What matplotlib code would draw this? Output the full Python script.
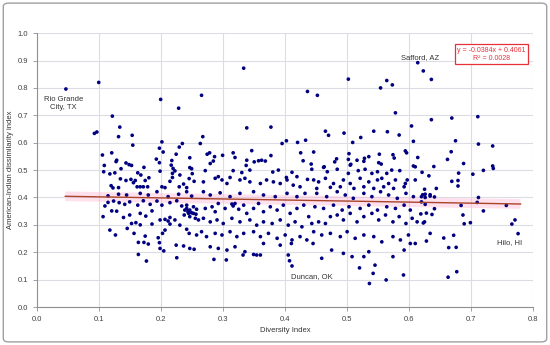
import matplotlib
matplotlib.use("Agg")
import matplotlib.pyplot as plt
from matplotlib.patches import FancyBboxPatch

plt.rcParams['font.family'] = ['Liberation Sans', 'DejaVu Sans']

# ---- data ----
points = [
    (.046,.796),(.099,.82),(.092,.634),(.096,.639),(.121,.697),(.133,.657),(.131,.622),(.153,.627),(.154,.591),
    (.199,.758),(.228,.726),(.265,.773),(.333,.872),(.201,.603),(.267,.622),(.263,.597),(.338,.654),(.377,.657),
    (.614,.892),(.623,.862),(.636,.831),(.502,.832),(.564,.827),(.573,.811),(.554,.80),(.436,.787),(.452,.773),
    (.578,.709),(.636,.684),(.669,.69),(.711,.695),(.604,.661),(.465,.642),(.47,.627),(.495,.635),(.543,.642),
    (.565,.64),(.584,.628),(.522,.619),(.509,.601),(.607,.605),(.675,.607),(.712,.595),(.735,.588),(.395,.597),
    (.402,.607),(.42,.601),(.433,.609),(.425,.563),(.446,.566),
    (.429,.534),(.442,.522),(.463,.512),(.48,.53),(.483,.541),(.503,.56),(.502,.539),(.506,.521),(.516,.536),
    (.527,.532),(.528,.543),(.535,.549),(.552,.558),(.551,.527),(.555,.522),(.574,.556),(.576,.544),(.594,.57),
    (.596,.563),(.614,.546),(.61,.512),(.64,.513),(.662,.539),(.668,.567),(.688,.524),(.735,.515),(.736,.506),
    (.621,.492),(.632,.479),(.68,.489),(.703,.485),(.72,.499),(.669,.459),(.679,.462),(.679,.442),(.644,.433),(.625,.43),
    (.712,.40),(.71,.382),(.684,.371),(.72,.351),(.757,.371),(.687,.336),(.689,.304),(.699,.308),(.771,.318),
    (.766,.303),(.776,.268),(.672,.262),(.656,.252),(.664,.217),(.676,.218),(.677,.129),(.663,.109),(.628,.241),
    (.634,.269),(.641,.359),(.637,.338),(.628,.343),(.623,.307),(.625,.311),(.619,.34),(.626,.375),(.62,.384),
    (.626,.40),(.634,.405),(.641,.402),(.62,.403),(.622,.41),(.626,.412),(.634,.41),
    (.197,.58),(.203,.566),(.234,.597),(.229,.584),(.224,.558),(.246,.545),(.105,.555),(.12,.563),(.127,.531),
    (.128,.536),(.108,.517),(.143,.526),(.148,.52),(.152,.517),(.192,.54),(.197,.527),(.217,.535),(.216,.518),
    (.172,.51),(.107,.494),(.135,.505),(.117,.486),(.125,.49),(.162,.49),(.167,.482),(.18,.472),(.198,.496),
    (.219,.506),(.222,.497),(.218,.488),(.23,.482),(.246,.509),(.249,.505),(.25,.487),(.245,.469),(.134,.468),
    (.143,.462),(.151,.466),(.155,.454),(.158,.462),(.174,.462),(.161,.439),(.166,.439),(.171,.439),(.178,.439),
    (.119,.443),(.122,.435),(.131,.436),(.201,.439),(.206,.436),(.214,.459),(.218,.473),(.229,.439),(.236,.449),
    (.241,.436),(.253,.459),
    (.114,.406),(.131,.412),(.144,.409),(.166,.415),(.179,.409),(.193,.421),(.211,.403),(.228,.412),(.241,.421),
    (.249,.405),(.109,.369),(.114,.382),(.123,.387),(.132,.381),(.141,.375),(.149,.384),(.162,.372),(.171,.388),
    (.182,.375),(.193,.387),(.201,.372),(.214,.381),(.225,.388),(.233,.369),(.241,.36),(.246,.354),(.252,.342),
    (.244,.342),(.237,.336),(.106,.33),(.12,.351),(.128,.35),(.139,.327),(.149,.336),(.166,.342),(.175,.332),
    (.185,.351),(.198,.318),(.206,.32),(.214,.327),(.222,.318),(.152,.305),(.159,.308),(.166,.30),(.185,.303),
    (.117,.281),(.126,.263),(.145,.287),(.156,.269),(.174,.259),(.195,.253),(.197,.235),(.206,.281),(.202,.269),
    (.163,.236),(.172,.236),(.179,.23),(.198,.214),(.204,.205),(.163,.192),(.176,.168),(.225,.18),(.224,.226),
    (.236,.223),(.246,.214),(.253,.211),(.211,.314),(.214,.303),(.23,.299),(.241,.284),(.245,.269),(.257,.263),
    (.238,.354),(.243,.348),(.249,.344),(.256,.339),(.241,.372),(.252,.366),(.257,.357),(.246,.33),(.255,.324),(.26,.318),
    (.271,.36),(.282,.366),(.287,.348),(.292,.378),(.303,.36),(.314,.376),(.316,.369),(.319,.378),(.325,.357),
    (.333,.372),(.338,.342),(.349,.36),(.357,.378),(.365,.348),(.376,.366),(.387,.354),(.397,.372),(.408,.342),
    (.419,.36),(.43,.372),(.438,.33),
    (.268,.324),(.279,.311),(.29,.318),(.30,.305),(.314,.324),(.327,.311),(.343,.318),(.354,.299),(.365,.311),
    (.379,.305),(.392,.318),(.405,.299),(.416,.311),(.427,.293),
    (.265,.275),(.273,.257),(.287,.269),(.298,.263),(.311,.275),(.322,.257),(.333,.269),(.349,.275),(.36,.257),
    (.373,.269),(.387,.251),(.40,.263),(.411,.245),(.424,.257),(.435,.245),
    (.279,.22),(.292,.214),(.306,.208),(.319,.22),(.335,.202),(.365,.232),(.392,.226),(.41,.232),
    (.285,.174),(.305,.172),(.332,.19),(.349,.192),(.354,.19),(.36,.19),(.405,.19),(.407,.169),(.411,.15),
    (.268,.421),(.279,.409),(.295,.417),(.311,.403),(.327,.415),(.349,.421),(.365,.409),(.384,.403),(.403,.415),
    (.419,.403),(.432,.415),
    (.443,.305),(.454,.311),(.465,.305),(.473,.33),(.484,.336),(.494,.318),(.505,.342),(.516,.311),(.527,.33),
    (.54,.342),(.551,.318),(.562,.336),(.574,.311),(.584,.33),(.595,.305),(.605,.324),(.613,.311),
    (.448,.366),(.462,.36),(.478,.372),(.492,.354),(.503,.366),(.521,.36),(.535,.372),(.549,.354),(.564,.366),
    (.578,.36),(.592,.372),(.602,.354),
    (.446,.275),(.459,.263),(.473,.269),(.489,.257),(.50,.275),(.513,.251),(.527,.263),(.543,.257),(.556,.238),
    (.574,.257),(.586,.245),(.599,.263),(.61,.232),
    (.459,.178),(.475,.208),(.494,.196),(.508,.184),(.527,.184),(.535,.202),(.545,.153),(.574,.184),(.592,.208),(.602,.232),
    (.52,.143),(.542,.123),(.536,.086),(.563,.099),(.591,.117),(.445,.232),
    (.451,.415),(.467,.403),(.484,.421),(.497,.409),(.51,.397),(.527,.415),(.54,.403),(.554,.421),(.567,.409),
    (.581,.397),(.595,.415),(.607,.403),
    (.346,.571),(.377,.553),(.274,.558),(.278,.563),(.286,.549),(.284,.533),(.299,.554),(.316,.563),(.319,.546),
    (.338,.536),(.337,.517),(.35,.53),(.357,.534),(.362,.536),(.368,.533),(.271,.498),(.279,.524),(.316,.498),
    (.33,.491),(.343,.50),(.38,.493),(.389,.50),(.402,.473),(.411,.492),(.419,.476),(.436,.466),
    (.268,.457),(.287,.47),(.292,.476),(.298,.464),(.306,.451),(.311,.473),(.327,.464),(.335,.47),(.343,.457),
    (.36,.451),(.37,.464),(.381,.457),(.392,.451),(.403,.464),(.413,.445),(.424,.439),
    (.443,.503),(.462,.51),(.468,.494),(.484,.503),(.505,.518),(.502,.488),(.518,.498),(.529,.503),(.54,.488),
    (.549,.494),(.564,.488),(.572,.50),(.585,.498),(.597,.464),(.607,.515),
    (.446,.464),(.454,.457),(.465,.47),(.478,.451),(.494,.464),(.505,.451),(.521,.47),(.535,.457),(.549,.464),
    (.556,.47),(.567,.451),(.578,.464),(.594,.451),(.61,.464),
    (.451,.433),(.473,.437),(.489,.439),(.511,.433),(.527,.439),(.543,.433),(.559,.439),(.575,.433),(.592,.439),
]
diversity = [p[0] for p in points]
dissimilarity = [p[1] for p in points]

slope = -0.0384
intercept = 0.4061
trend_x = [0.045, 0.78]
trend_y = [slope * v + intercept for v in trend_x]

labels = [("Rio Grande\nCity, TX", 0.042, 0.742),
          ("Safford, AZ", 0.617, 0.912),
          ("Duncan, OK", 0.443, 0.113),
          ("Hilo, HI", 0.762, 0.234)]

x_ticks = [0.0, 0.1, 0.2, 0.3, 0.4, 0.5, 0.6, 0.7, 0.8]
y_ticks = [0.0, 0.1, 0.2, 0.3, 0.4, 0.5, 0.6, 0.7, 0.8, 0.9, 1.0]

# ---- figure ----
fig = plt.figure(figsize=(5.5, 3.45), dpi=100)
frame = FancyBboxPatch((0.006, 0.009), 0.988, 0.982, boxstyle="round,pad=0,rounding_size=0.01",
                       transform=fig.transFigure, fill=False, edgecolor="#a0a0a0", linewidth=1.0)
fig.patches.append(frame)

ax = fig.add_axes([0.068, 0.110, 0.901, 0.794])
ax.set_xlim(0, 0.8)
ax.set_ylim(0, 1.0)
ax.set_xticks(x_ticks)
ax.set_yticks(y_ticks)
ax.set_xticklabels([f"{t:.1f}" for t in x_ticks])
ax.set_yticklabels([f"{t:.1f}" for t in y_ticks])
ax.grid(True, color="#dcdce4", linewidth=0.8)
ax.set_axisbelow(True)
for side in ["top", "right"]:
    ax.spines[side].set_visible(False)
for side in ["left", "bottom"]:
    ax.spines[side].set_color("#909090")
    ax.spines[side].set_linewidth(0.8)
ax.tick_params(axis="both", labelsize=5.5, length=3, width=0.6, direction="out",
               colors="#909090", labelcolor="#404040")

ax.scatter(diversity, dissimilarity, s=7, color="#000080", edgecolors="none", zorder=3)

# trendline with soft pink glow
ax.plot(trend_x, trend_y, color="#ffb6d2", linewidth=7, alpha=0.4, solid_capstyle="butt", zorder=2)
ax.plot(trend_x, trend_y, color="#a8452b", linewidth=1.0, zorder=4)

for txt, lx, ly in labels:
    ax.text(lx, ly, txt, fontsize=5.5, color="#333333", ha="center", va="center", zorder=5)

ax.text(0.733, 0.923, "y = -0.0384x + 0.4061\nR² = 0.0028", fontsize=5, color="#e8303a",
        ha="center", va="center", linespacing=1.2, zorder=5,
        bbox=dict(boxstyle="square,pad=0.35", facecolor="white", edgecolor="#e8303a", linewidth=0.9))

ax.set_xlabel("Diversity Index", fontsize=5.5, color="#333333", labelpad=3)
ax.set_ylabel("American-Indian dissimilarity index", fontsize=5.5, color="#333333", labelpad=3)

fig.savefig("out.png", dpi=100)
